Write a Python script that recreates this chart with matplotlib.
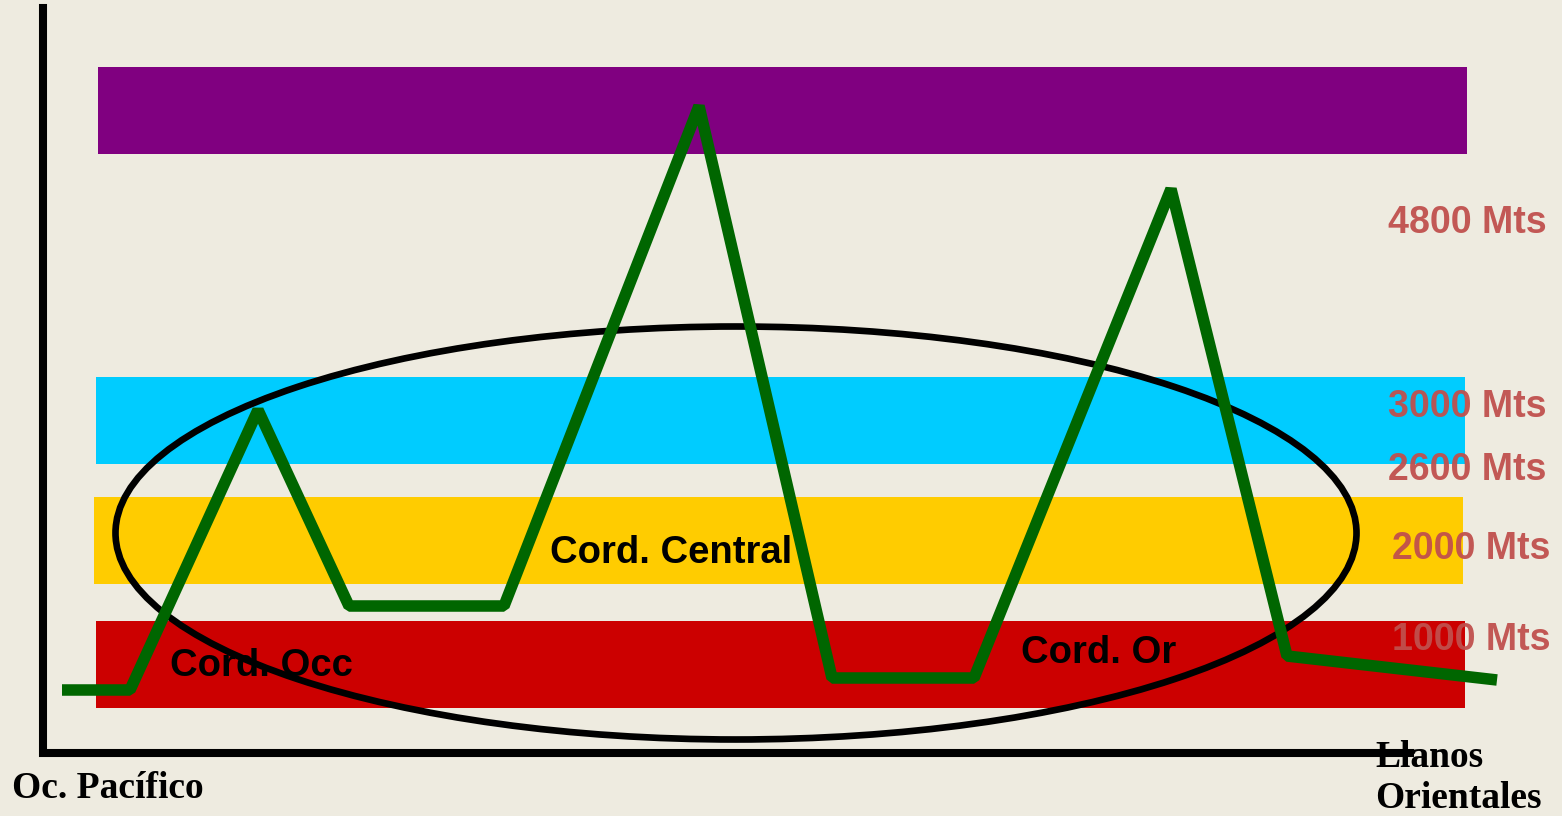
import matplotlib.pyplot as plt
from matplotlib.patches import Ellipse, Rectangle

# altitude bands (left, right, top, bottom) in drawing units
band_colors = ["#800080", "#00CCFF", "#FFCC00", "#CC0000"]
band_left = [98, 96, 94, 96]
band_right = [1467, 1465, 1463, 1465]
band_top = [67, 377, 497, 621]
band_bottom = [154, 464, 584, 708]

# profile of the Andes (west -> east)
profile_x = [62, 130, 258, 349, 504, 699, 832, 974, 1171, 1287, 1497]
profile_y = [690, 690, 410, 606, 606, 106, 678, 678, 189, 656, 680]

alt_labels = ["4800 Mts", "3000 Mts", "2600 Mts", "2000 Mts", "1000 Mts"]
alt_label_x = [1467, 1467, 1467, 1471, 1471]
alt_label_y = [223, 407, 470, 549, 640]

range_labels = ["Cord. Occ", "Cord. Central", "Cord. Or"]
range_label_x = [261, 671, 1099]
range_label_y = [666, 553, 653]

fig = plt.figure(figsize=(15.62, 8.16), dpi=100)
fig.patch.set_facecolor("#EEEBE0")
ax = fig.add_axes([0, 0, 1, 1])
ax.set_facecolor("#EEEBE0")
ax.set_xlim(0, 1562)
ax.set_ylim(816, 0)
ax.axis("off")

for c, l, r, t, b in zip(band_colors, band_left, band_right, band_top, band_bottom):
    ax.add_patch(Rectangle((l, t), r - l, b - t, facecolor=c, edgecolor="none", zorder=1))

for lab, x, y in zip(range_labels, range_label_x, range_label_y):
    ax.text(x, y, lab, family="Liberation Sans", fontweight="bold", fontsize=27.5,
            ha="center", va="center", color="black", zorder=2)

ax.add_patch(Ellipse((736, 533), 1241, 413, facecolor="none", edgecolor="black",
                     linewidth=4.8, zorder=3))

ax.plot(profile_x, profile_y, color="#006600", linewidth=8.3,
        solid_joinstyle="bevel", solid_capstyle="butt", zorder=4)

# axes of the diagram
ax.plot([43, 43, 1410], [8, 753, 753], color="black", linewidth=5.8,
        solid_joinstyle="miter", zorder=5)

for lab, x, y in zip(alt_labels, alt_label_x, alt_label_y):
    ax.text(x, y, lab, family="Liberation Sans", fontweight="bold", fontsize=27,
            ha="center", va="center", color="#C0504D", alpha=0.95, zorder=6)

ax.text(12, 789, "Oc. Pacífico", family="Liberation Serif", fontweight="bold",
        fontsize=27, ha="left", va="center", color="black", zorder=6)
ax.text(1375, 778, "Llanos\nOrientales", family="Liberation Serif", fontweight="bold",
        fontsize=27, ha="left", va="center", color="black", linespacing=1.2, zorder=6)

fig.savefig("out.png", dpi=100, facecolor=fig.get_facecolor())
